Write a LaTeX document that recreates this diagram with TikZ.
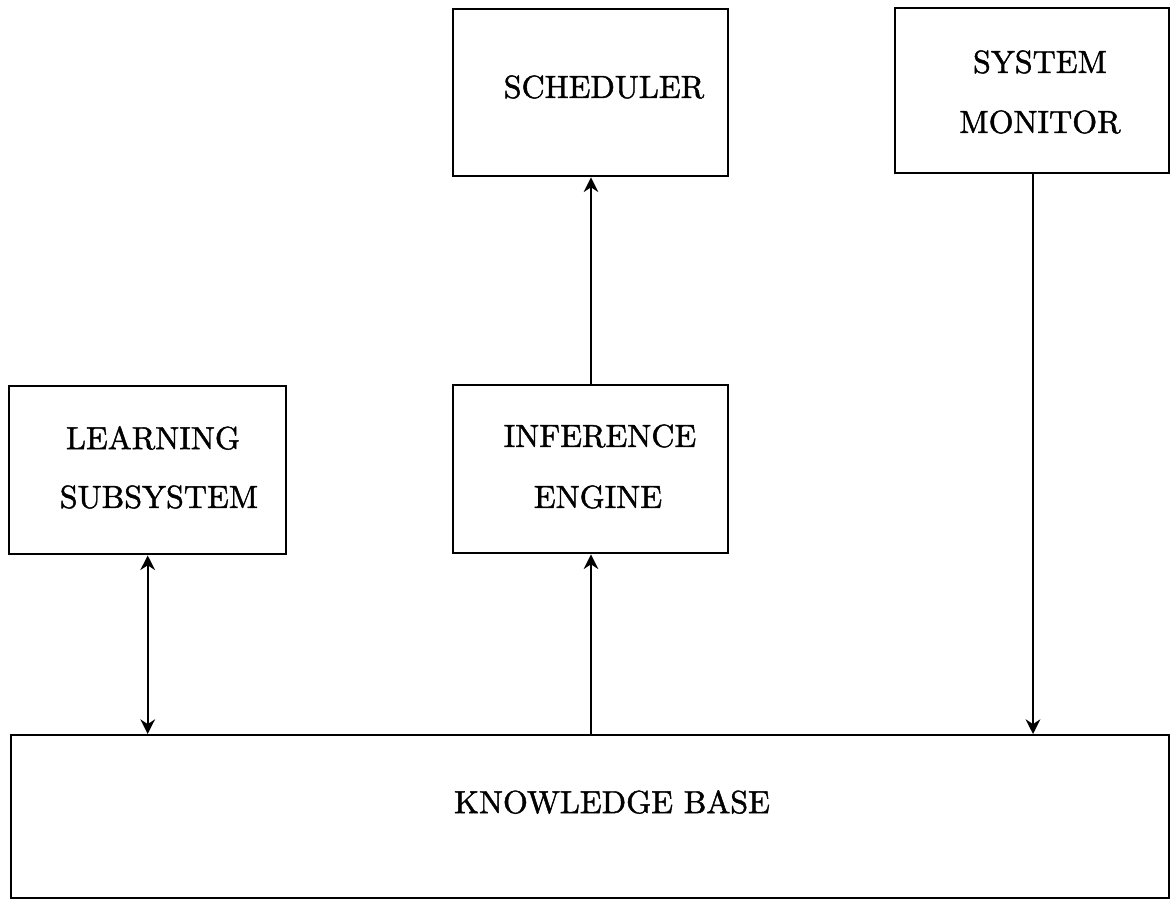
\documentclass[tikz,border=0pt]{standalone}
\usepackage{fontspec}
\newfontfamily\heavy{lmroman10-regular.otf}[FakeBold=1.4]
\usetikzlibrary{arrows.meta}
\begin{document}
\begin{tikzpicture}[x=0.75pt,y=-0.75pt,
  blk/.style={draw,line width=1.8pt,inner sep=0pt,anchor=north west},
  lbl/.style={font=\heavy\fontsize{24}{29}\selectfont},
  conn/.style={line width=1.5pt,-{Stealth[length=11pt,width=11pt]}},
  conn2/.style={line width=1.5pt,{Stealth[length=11pt,width=11pt]}-{Stealth[length=11pt,width=11pt]}}]
\useasboundingbox (0,0) rectangle (1170,899);
\node[blk,minimum width=277*0.75pt,minimum height=168*0.75pt] (ls) at (8,385) {};
\node[blk,minimum width=275*0.75pt,minimum height=168*0.75pt] (ie) at (452,384) {};
\node[blk,minimum width=275*0.75pt,minimum height=167*0.75pt] (sc) at (452,8) {};
\node[blk,minimum width=274*0.75pt,minimum height=165*0.75pt] (sm) at (894,7) {};
\node[blk,minimum width=1158*0.75pt,minimum height=163*0.75pt] (kb) at (10,734) {};
\node[lbl] (t1) at (153,438) {LEARNING};
\node[lbl] (t2) at (159,497) {SUBSYSTEM};
\node[lbl] (t3) at (600,436) {INFERENCE};
\node[lbl] (t4) at (598,497) {ENGINE};
\node[lbl] (t5) at (604,87) {SCHEDULER};
\node[lbl] (t6) at (1040,62) {SYSTEM};
\node[lbl] (t7) at (1040,122) {MONITOR};
\node[lbl] (t8) at (612,802) {KNOWLEDGE BASE};
\coordinate (a1) at ([xshift=139*0.75pt]ie.south west);
\coordinate (a2) at ([xshift=139*0.75pt]ie.north west);
\coordinate (a3) at ([xshift=139*0.75pt]sc.south west);
\coordinate (a4) at ([xshift=139*0.75pt]sm.south west);
\draw[conn2] (ls.south) -- (ls.south |- kb.north);
\draw[conn] (a1 |- kb.north) -- (a1);
\draw[conn] (a2) -- (a3);
\draw[conn] (a4) -- (a4 |- kb.north);
\end{tikzpicture}
\end{document}
